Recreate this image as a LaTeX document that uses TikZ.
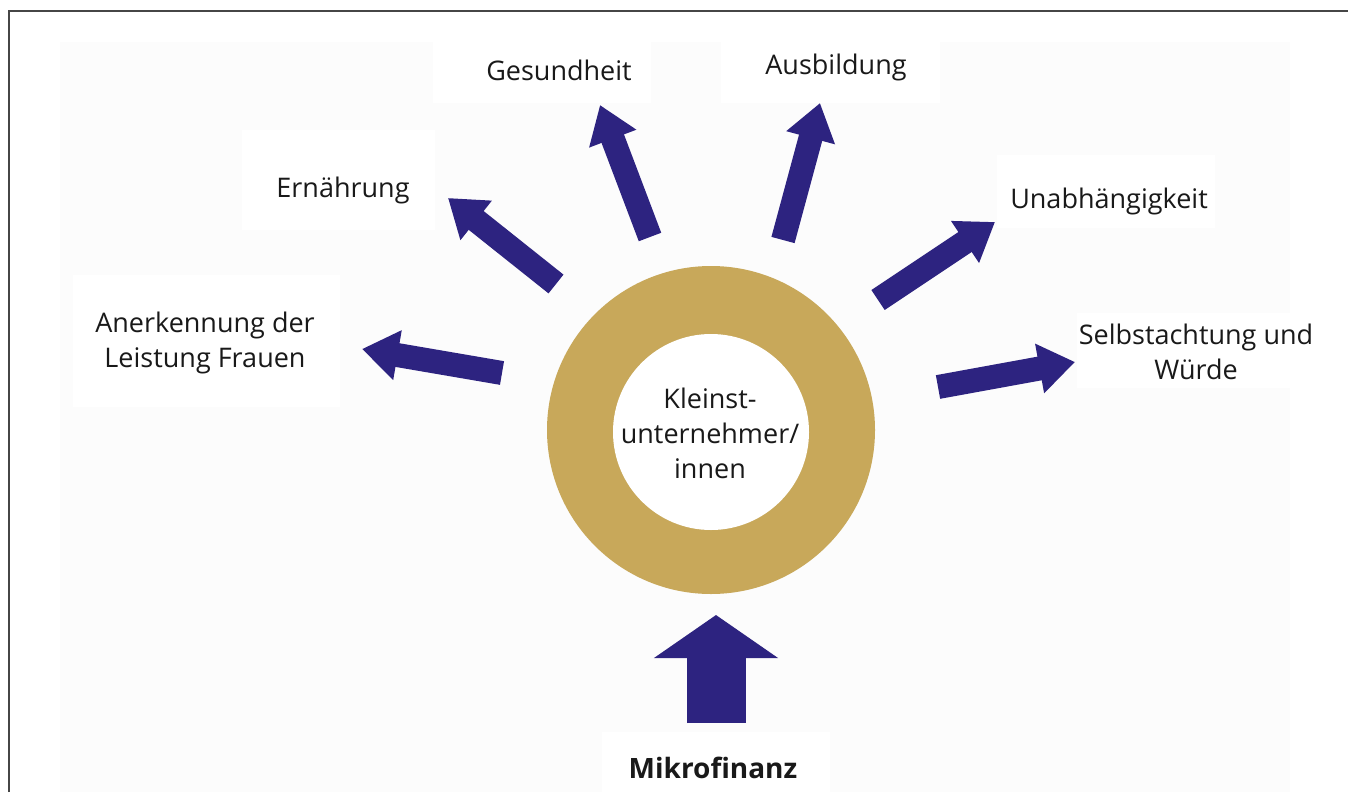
\documentclass[tikz,border=0pt]{standalone}
\usepackage{fontspec}
\setmainfont{Open Sans}
\usetikzlibrary{arrows.meta}
\definecolor{gold}{RGB}{200,168,90}
\definecolor{navy}{RGB}{45,35,128}
\definecolor{framegray}{RGB}{70,70,70}
\definecolor{bggray}{RGB}{252,252,252}
\definecolor{ink}{RGB}{25,25,25}
\tikzset{
  lbl/.style={text=ink, font=\fontsize{27}{35}\selectfont, align=center, inner sep=0pt},
  boxbg/.style={fill=white},
  sarrow/.style={draw=navy, line width=24pt, -{Triangle[length=36pt,width=48pt]}},
  barrow/.style={draw=navy, line width=59pt, -{Triangle[length=43pt,width=122pt]}}
}
\begin{document}
\begin{tikzpicture}[x=1pt,y=-1pt]
\useasboundingbox (0,0) rectangle (1348,792);
\fill[white] (0,0) rectangle (1348,792);
\fill[bggray] (60,42) rectangle (1290,792);
\draw[framegray, line width=2pt] (8.5,792) -- (8.5,11.5) -- (1348,11.5);
% label backgrounds
\fill[boxbg] (433,42) rectangle (651,103);
\fill[boxbg] (721,42) rectangle (940,103);
\fill[boxbg] (242,130) rectangle (435,230);
\fill[boxbg] (73,275) rectangle (340,407);
\fill[boxbg] (997,155) rectangle (1215,228);
\fill[boxbg] (1077,313) rectangle (1325,388);
\fill[boxbg] (602,732) rectangle (830,792);
% labels
\node[lbl] (gesund) at (559,70) {Gesundheit};
\node[lbl] (ausb) at (836,67) {Ausbildung};
\node[lbl] (ernae) at (343,190) {Ernährung};
\node[lbl] (anerk) at (205,343) {Anerkennung der\\Leistung Frauen};
\node[lbl] (unab) at (1109,201) {Unabhängigkeit};
\node[lbl] (selbst) at (1196,352) {Selbstachtung und\\Würde};
\node[lbl, font=\fontsize{28}{35}\selectfont\bfseries] (mikro) at (713,768) {Mikrofinanz};
% ring
\node[circle, fill=gold, minimum size=328pt, inner sep=0pt] (ring) at (711,430) {};
\node[circle, fill=white, minimum size=196pt, inner sep=0pt] (core) at (711,432) {};
\node[lbl] (klein) at (710,433) {Kleinst-\\unternehmer/\\innen};
% arrow end points
\coordinate (t1) at (502,373); \coordinate (h1) at (362,349);
\coordinate (t2) at (556,284); \coordinate (h2) at (448,198);
\coordinate (t3) at (650,237); \coordinate (h3) at (600,105);
\coordinate (t4) at (783,240); \coordinate (h4) at (820,103);
\coordinate (t5) at (878,300); \coordinate (h5) at (995,222);
\coordinate (t6) at (938,387); \coordinate (h6) at (1075,362);
\coordinate (t0) at (716,723); \coordinate (h0) at (716,615);
\draw[sarrow] (t1) -- (h1);
\draw[sarrow] (t2) -- (h2);
\draw[sarrow] (t3) -- (h3);
\draw[sarrow] (t4) -- (h4);
\draw[sarrow] (t5) -- (h5);
\draw[sarrow] (t6) -- (h6);
\draw[barrow] (t0) -- (h0);
\end{tikzpicture}
\end{document}
